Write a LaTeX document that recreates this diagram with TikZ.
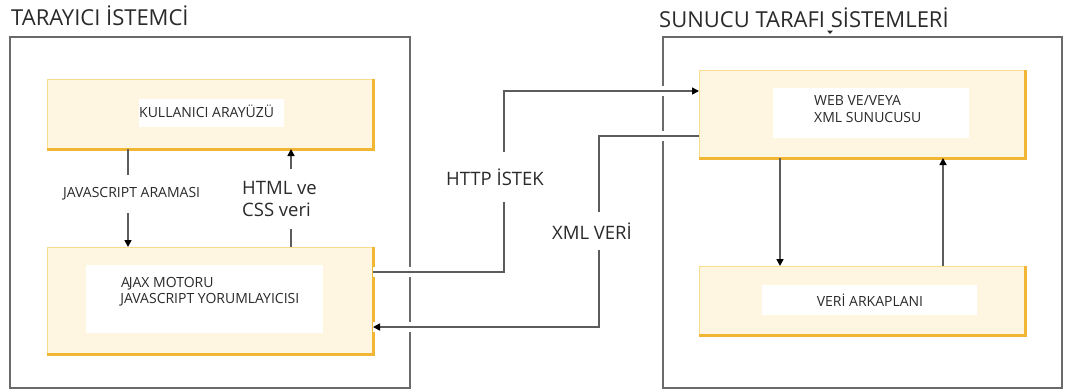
\documentclass[tikz,border=0pt]{standalone}
\usepackage{fontspec}
\setmainfont{Open Sans}
\newfontfamily\lblfont{Open Sans}
\usetikzlibrary{arrows.meta}
\definecolor{ybfill}{HTML}{FFF6E1}
\definecolor{ybedge}{HTML}{F8DC90}
\definecolor{ybshadow}{HTML}{F1B633}
\definecolor{framegray}{HTML}{6A6A6A}
\definecolor{linegray}{HTML}{5C5C5C}
\definecolor{txt}{HTML}{2A2A2A}
\tikzset{
  frame/.style={draw=framegray, line width=2pt, inner sep=0pt, anchor=north west},
  ybox/.style={fill=ybfill, draw=ybedge, line width=1pt, inner sep=0pt, anchor=north west},
  conn/.style={draw=linegray, line width=1.6pt},
  tip/.style={-{Triangle[length=7pt,width=7pt,color=black]}},
  bridge/.style={preaction={draw=white, line width=10pt, -}},
  boxtext/.style={font=\fontsize{14}{16.5}\selectfont, text=txt, inner sep=0pt, align=left},
  title/.style={font=\fontsize{22}{26}\selectfont, text=txt, inner sep=0pt, anchor=west},
  biglabel/.style={font=\lblfont\fontsize{18.5}{22}\selectfont, text=txt, fill=white, inner xsep=2pt, align=left},
  smalllabel/.style={font=\fontsize{14}{16}\selectfont, text=txt, fill=white, inner xsep=2pt},
}
\newcommand{\shadowedge}[1]{\draw[ybshadow, line width=3pt] (#1.north east) -- (#1.south east) -- (#1.south west);}
\begin{document}
\begin{tikzpicture}[x=1pt,y=-1pt]
\useasboundingbox (0,0) rectangle (1066,389);

% titles
\node[title] (tclient) at (11,16) {TARAYICI İSTEMCİ};
\node[title] (tserver) at (659,18) {SUNUCU TARAFI SİSTEMLERİ};
\fill[txt] (827,30.5) -- (833,30.5) -- (830,34) -- cycle;

% outer frames
\node[frame, minimum width=400pt, minimum height=351pt] (client) at (9,36) {};
\node[frame, minimum width=399pt, minimum height=351pt] (server) at (662,36) {};

% yellow boxes
\node[ybox, minimum width=325pt, minimum height=69pt] (ui) at (47,79) {};
\node[ybox, minimum width=325pt, minimum height=106pt] (ajax) at (47,247) {};
\node[ybox, minimum width=325pt, minimum height=87pt] (web) at (699,70) {};
\node[ybox, minimum width=325pt, minimum height=68pt] (db) at (699,266) {};
\shadowedge{ui}
\shadowedge{ajax}
\shadowedge{web}
\shadowedge{db}

% white panels
\fill[white] (139,99) rectangle (284,127);
\fill[white] (86,265) rectangle (323,333);
\fill[white] (773,88) rectangle (969,138);
\fill[white] (762,285) rectangle (977,315);

% box texts
\node[boxtext, anchor=west] (tui) at (139,111) {KULLANICI ARAYÜZÜ};
\node[boxtext, anchor=west] (tajax) at (121,291.5) {A\kern-1.2pt JAX MOTORU\\\kern-0.8pt JAVASCRIPT YORUMLAYICISI};
\node[boxtext, anchor=west] (tweb) at (814,109) {WEB VE/VEYA\\XML SUNUCUSU};
\node[boxtext] (tdb) at (870,300) {VERİ ARKAPLANI};

% helper coordinates for connector routes
\coordinate (jsx) at (128,0);
\coordinate (hx) at (291,0);
\coordinate (h1) at (504,272);
\coordinate (h2) at (504,91);
\coordinate (x1) at (599,136);
\coordinate (x2) at (599,327);
\coordinate (dx) at (780,0);
\coordinate (ux) at (943,0);

% client internal connectors
\draw[conn, tip] (ui.south -| jsx) -- (ajax.north -| jsx);
\draw[conn, tip] (ajax.north -| hx) -- (ui.south -| hx);

% between client and server
\draw[conn, tip, bridge] (ajax.east |- h1) -- (h1) -- (h2) -- (web.west |- h2);
\draw[conn, tip, bridge] (web.west |- x1) -- (x1) -- (x2) -- (ajax.east |- x2);

% server internal connectors
\draw[conn, tip] (web.south -| dx) -- (db.north -| dx);
\draw[conn, tip] (db.north -| ux) -- (web.south -| ux);

% labels
\node[smalllabel, minimum height=38pt] (ljs) at (132,194) {\kern-0.8pt JAVASCRIPT ARAMASI};
\node[biglabel, minimum height=60pt, anchor=west] (lhtml) at (240,199) {HTML ve\\CSS veri};
\node[biglabel, minimum height=50pt] (lhttp) at (495,177) {HTTP İSTEK};
\node[biglabel, minimum height=38pt] (lxml) at (592,231) {XML VERİ};
\end{tikzpicture}
\end{document}
